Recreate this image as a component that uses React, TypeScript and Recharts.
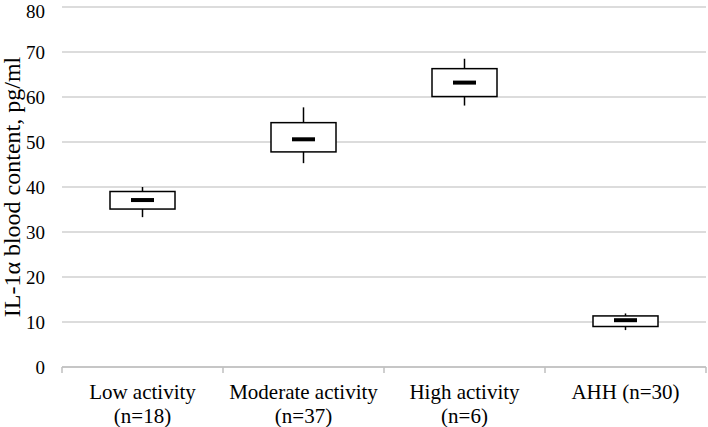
import React from 'react';
import { ComposedChart, Bar, XAxis, YAxis, CartesianGrid } from 'recharts';

const groups = ['Low activity\n(n=18)', 'Moderate activity\n(n=37)', 'High activity\n(n=6)', 'AHH (n=30)'];
const whiskerLow = [33.3, 45.3, 58.1, 8.2];
const boxLow = [35.1, 47.8, 60.1, 9.0];
const medians = [37.1, 50.6, 63.2, 10.4];
const boxHigh = [39.0, 54.3, 66.3, 11.35];
const whiskerHigh = [40.0, 57.7, 68.5, 11.9];
const yTicks = [0, 10, 20, 30, 40, 50, 60, 70, 80];

const data = groups.map((name, i) => ({
  name,
  min: whiskerLow[i],
  q1: boxLow[i],
  median: medians[i],
  q3: boxHigh[i],
  max: whiskerHigh[i],
}));

const font = '"Liberation Serif", "Times New Roman", serif';

// the bar spans min..max; the rest is placed inside it
const BoxShape = (props: any) => {
  const { x, y, width, height, payload } = props;
  const { min, q1, median, q3, max } = payload;
  const toY = (v: number) => y + ((max - v) / (max - min)) * height;
  const cx = x + width / 2;
  return (
    <g>
      <line x1={cx} x2={cx} y1={toY(max)} y2={toY(min)} stroke="#000" strokeWidth={1.5} />
      <rect x={x} y={toY(q3)} width={width} height={toY(q1) - toY(q3)} fill="#fff" stroke="#000" strokeWidth={1.5} />
      <rect x={cx - 11.5} y={toY(median) - 2} width={23} height={4} fill="#000" />
    </g>
  );
};

const CategoryTick = (props: any) => {
  const { x, y, payload } = props;
  const half = payload.offset ?? 80.5;
  const lines = String(payload.value).split('\n');
  const last = payload.index === groups.length - 1;
  return (
    <g>
      <line x1={x - half} x2={x - half} y1={y} y2={y + 6} stroke="#bfbfbf" strokeWidth={1.5} />
      {last && <line x1={x + half} x2={x + half} y1={y} y2={y + 6} stroke="#bfbfbf" strokeWidth={1.5} />}
      <text x={x} y={y} textAnchor="middle" fontFamily={font} fontSize={21} fill="#000">
        {lines.map((l, i) => (
          <tspan key={i} x={x} y={y + 32 + i * 23.5}>
            {l}
          </tspan>
        ))}
      </text>
    </g>
  );
};

export default function App() {
  return (
    <div style={{ position: 'absolute', left: 0, top: 0, background: '#fff' }}>
      <ComposedChart width={708} height={427} data={data} margin={{ top: 7, right: 2, left: 0, bottom: 0 }}>
        <CartesianGrid vertical={false} stroke="#d0d0d0" strokeWidth={1.5} />
        <XAxis
          dataKey="name"
          height={60}
          interval={0}
          tickLine={false}
          tickSize={0}
          tickMargin={0}
          axisLine={{ stroke: '#bfbfbf', strokeWidth: 1.5 }}
          tick={<CategoryTick />}
        />
        <YAxis
          domain={[0, 80]}
          ticks={yTicks}
          width={62}
          axisLine={false}
          tickLine={false}
          tickSize={15}
          tickMargin={2}
          tick={{ fontSize: 19, fontFamily: font, fill: '#000' }}
          label={{
            value: 'IL-1α blood content, pg/ml',
            angle: -90,
            position: 'insideLeft',
            offset: 11,
            style: { textAnchor: 'middle', fontSize: 24, fontFamily: font, fill: '#000' },
          }}
        />
        <Bar
          dataKey={(d: any) => [d.min, d.max]}
          barSize={65}
          shape={<BoxShape />}
          isAnimationActive={false}
        />
      </ComposedChart>
    </div>
  );
}
